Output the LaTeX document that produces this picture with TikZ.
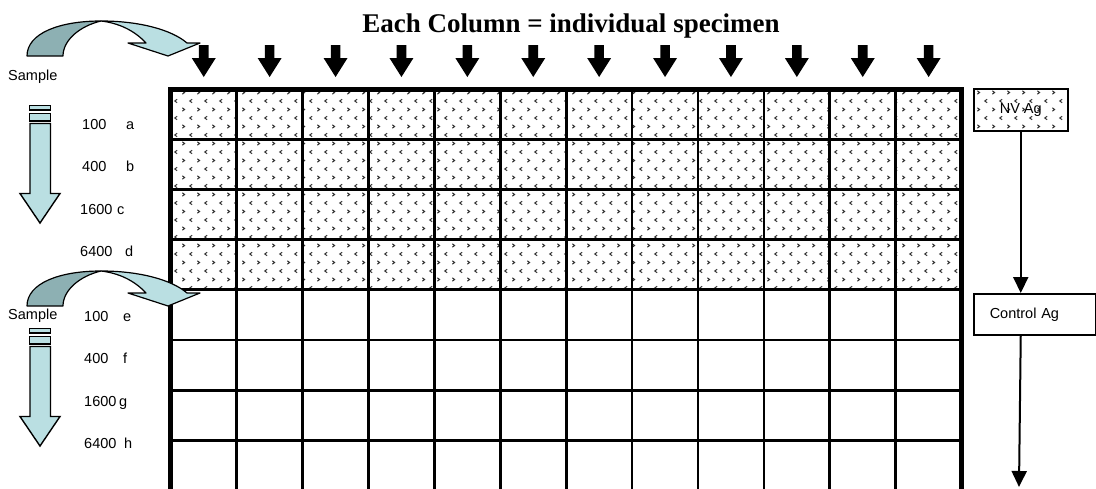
\documentclass[tikz,border=0pt]{standalone}
\usepackage{fontspec}
\setmainfont{Liberation Serif}
\newfontfamily\arialf{Liberation Sans}
\usetikzlibrary{patterns,arrows.meta}
\pgfdeclarepatternformonly{chev}{\pgfqpoint{-1pt}{-1pt}}{\pgfqpoint{16pt}{18pt}}{\pgfqpoint{15pt}{17pt}}{%
  \pgfsetlinewidth{1pt}%
  \pgfpathmoveto{\pgfqpoint{2.3pt}{6.2pt}}\pgfpathlineto{\pgfqpoint{4.6pt}{4.5pt}}\pgfpathlineto{\pgfqpoint{2.3pt}{2.8pt}}%
  \pgfpathmoveto{\pgfqpoint{12.1pt}{14.7pt}}\pgfpathlineto{\pgfqpoint{9.8pt}{13pt}}\pgfpathlineto{\pgfqpoint{12.1pt}{11.3pt}}%
  \pgfusepath{stroke}%
}
\definecolor{tealdark}{RGB}{141,176,179}
\definecolor{teallight}{RGB}{186,223,226}
\definecolor{patgray}{RGB}{50,50,50}
\newcommand{\mycurvearrow}{%
  \filldraw[fill=tealdark, curveline] (27,56) .. controls (27,33) and (60,21) .. (101,21)
     .. controls (80,26) and (63,40) .. (63,56) -- cycle;
  \filldraw[fill=teallight, curveline] (101,21) .. controls (140,21) and (172,30) .. (187,43)
     -- (200,43) -- (168,56) -- (128,43) -- (146,43)
     .. controls (134,30) and (118,23) .. (101,21) -- cycle;
}
\newcommand{\mytubearrow}{%
  \filldraw[tubeshape] (29.5,105.5) rectangle (50.5,110);
  \filldraw[tubeshape] (29.5,113.5) rectangle (50.5,121);
  \filldraw[tubeshape] (30,123.5) -- (50.5,123.5) -- (50.5,193.5) -- (60,193.5) -- (40,223)
     -- (20,193.5) -- (30,193.5) -- cycle;
}
\begin{document}
\begin{tikzpicture}[x=1pt,y=-1pt,
  curveline/.style={draw=black, line width=1.2pt, line join=round},
  tubeshape/.style={fill=teallight, draw=black, line width=1.4pt},
  lbl/.style={font=\arialf\fontsize{14.5}{16}\selectfont, anchor=base west, inner sep=0pt},
  agbox/.style={draw=black, line width=1.5pt, font=\arialf\fontsize{14.5}{16}\selectfont},
  flowarrow/.style={line width=2pt, -{Triangle[width=15pt,length=16pt]}},
  gridline/.style={line width=2.7pt},
  gridframe/.style={line width=5pt, line join=miter},
]
\useasboundingbox (0,0) rectangle (1096,488);
\clip (0,0) rectangle (1096,488);

% title
\node[font=\bfseries\fontsize{27}{30}\selectfont, anchor=base, inner sep=0pt] (title) at (571,32) {Each Column = individual specimen};

% grid
\fill[pattern=chev, pattern color=patgray] (170.8,89) rectangle (961.7,289.3);
\foreach \i in {1,...,11} {
  \draw[gridline] ({170.8+65.9*\i},89) -- ({170.8+65.9*\i},495);
}
\foreach \j in {1,...,8} {
  \draw[gridline] (170.8,{89+50.2*\j}) -- (961.7,{89+50.2*\j});
}
\draw[gridframe] (170.8,495) -- (170.8,89) -- (961.7,89) -- (961.7,495);

% column arrows
\foreach \i in {0,...,11} {
  \pgfmathsetmacro\cx{203.75+65.9*\i}
  \fill[black] ({\cx-4.8},45) -- ({\cx+4.8},45) -- ({\cx+4.8},58) -- ({\cx+12},58)
     -- (\cx,77) -- ({\cx-12},58) -- ({\cx-4.8},58) -- cycle;
}

% curved arrows
\mycurvearrow
\begin{scope}[shift={(0,250)}]
\mycurvearrow
\end{scope}

% tube arrows
\mytubearrow
\begin{scope}[shift={(0,223)}]
\mytubearrow
\end{scope}

% left labels
\node[lbl] (s1) at (8,80.5) {Sample};
\node[lbl] (s2) at (8,319.5) {Sample};
\node[lbl] (na) at (82,129) {100};  \node[lbl] (la) at (126,129) {a};
\node[lbl] (nb) at (82,171) {400};  \node[lbl] (lb) at (126,171) {b};
\node[lbl] (nc) at (80,214) {1600}; \node[lbl] (lc) at (117,214) {c};
\node[lbl] (nd) at (80,256.5) {6400}; \node[lbl] (ld) at (125,256.5) {d};
\node[lbl] (ne) at (84,321.5) {100};  \node[lbl] (le) at (123,321.5) {e};
\node[lbl] (nf) at (84,363) {400};  \node[lbl] (lf) at (123,363) {f};
\node[lbl] (ng) at (84,406.5) {1600}; \node[lbl] (lg) at (119,406.5) {g};
\node[lbl] (nh) at (84,448) {6400}; \node[lbl] (lh) at (124,448) {h};

% right boxes
\node[agbox, pattern=chev, pattern color=patgray, anchor=north west, minimum width=94pt, minimum height=42pt, inner sep=0pt] (nv) at (973,88) {NV Ag};
\node[agbox, anchor=north west, minimum height=41pt, text width=90pt, inner xsep=16pt, inner ysep=0pt, align=left] (ctrl) at (973,293) {Control Ag};
\coordinate (endpt) at (1019,487);
\draw[flowarrow] (nv.south) -- (nv.south |- ctrl.north);
\draw[flowarrow] (nv.south |- ctrl.south) -- (endpt);
\end{tikzpicture}
\end{document}
